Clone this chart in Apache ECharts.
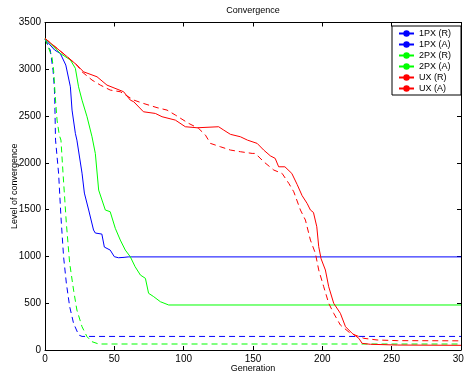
<!DOCTYPE html>
<html>
<head>
<meta charset="utf-8">
<title>Convergence</title>
<script src="https://cdn.jsdelivr.net/npm/echarts@6/dist/echarts.min.js"></script>
<style>
  html, body { margin: 0; padding: 0; background: #fff; }
  #chart { width: 464px; height: 375px; }
</style>
</head>
<body>
<div id="chart"></div>
<script>
// generation / level pairs, one pair of arrays per run
var onePxRGen = [0, 1, 7, 11, 15, 18.3, 19.5, 21.9, 23, 26.7, 28.4, 31.5, 35, 36.3, 41, 42.8, 47, 50, 53, 57, 60, 300];
var onePxRLevel = [3320, 3310, 3205, 3170, 3045, 2813, 2564, 2315, 2243, 1890, 1677, 1496, 1282, 1250, 1239, 1100, 1068, 997, 986, 990, 995, 995];

var onePxAGen = [0, 1, 3.8, 5.8, 6.7, 7, 7.6, 9.8, 11.5, 13.4, 15.4, 17.8, 20.6, 24.3, 26.7, 300];
var onePxALevel = [3320, 3300, 3205, 2990, 2813, 2700, 2243, 1890, 1424, 997, 714, 463, 285, 160, 145, 145];

var twoPxRGen = [0, 1, 11, 18.3, 21.9, 24.2, 26.7, 30.3, 33.9, 36.3, 38.7, 43.5, 47, 50.7, 54.3, 57.9, 61.5, 65, 68.8, 72.4, 74.7, 78.4, 83.2, 89.2, 300];
var twoPxRLevel = [3330, 3320, 3170, 3100, 3010, 2813, 2670, 2493, 2279, 2100, 1709, 1496, 1478, 1300, 1175, 1068, 997, 890, 801, 766, 606, 570, 516, 481, 481];

var twoPxAGen = [0, 1, 5, 6.2, 7.4, 8.7, 10.3, 11.5, 13, 15.4, 17.8, 20.6, 23, 26.7, 30.3, 33.9, 38.7, 300];
var twoPxALevel = [3330, 3310, 3133, 2990, 2706, 2457, 2297, 2243, 1890, 1353, 927, 641, 427, 249, 142, 89, 64, 64];

var uxRGen = [0, 1.4, 8.7, 16, 23, 27.8, 37.5, 44.7, 56.7, 61.5, 64, 71, 79.6, 84.4, 94, 101.2, 109.7, 125.2, 128.9, 133.7, 140.9, 146, 153, 157.7, 162.5, 166, 168.5, 173, 178, 181.8, 185.4, 189, 191.4, 193.6, 196, 197.4, 199.1, 202.2, 204.6, 208.2, 213, 216.7, 221.5, 226.3, 228.7, 234.7, 254, 300];
var uxRLevel = [3330, 3320, 3223, 3134, 3045, 2973, 2920, 2831, 2760, 2671, 2653, 2546, 2528, 2493, 2457, 2386, 2375, 2386, 2350, 2305, 2279, 2243, 2208, 2137, 2075, 2048, 1958, 1958, 1887, 1770, 1650, 1567, 1496, 1470, 1317, 1104, 975, 855, 676, 499, 392, 249, 178, 125, 71, 61, 53, 50];

var uxAGen = [0, 1.4, 8.7, 16, 23, 26.7, 33.9, 39.9, 47, 54.3, 64, 71, 80.8, 88, 94, 103.6, 110.8, 115.7, 119.3, 126.5, 133.7, 140.9, 149.4, 151.7, 157.7, 165, 171, 175.8, 179.4, 184.2, 187.8, 191.4, 195, 197.4, 201, 204.6, 208.2, 213, 220.3, 229.9, 239.5, 254, 300];
var uxALevel = [3330, 3320, 3223, 3134, 3045, 2973, 2885, 2831, 2778, 2760, 2671, 2635, 2590, 2564, 2511, 2422, 2368, 2297, 2208, 2172, 2137, 2119, 2101, 2101, 2012, 1923, 1887, 1781, 1691, 1496, 1389, 1175, 1033, 855, 676, 499, 392, 267, 178, 125, 107, 100, 98];

var seriesNames = ['1PX (R)', '1PX (A)', '2PX (R)', '2PX (A)', 'UX (R)', 'UX (A)'];
var xTicks = [0, 50, 100, 150, 200, 250, 300];
var yTicks = [0, 500, 1000, 1500, 2000, 2500, 3000, 3500];

var FONT = '"Liberation Sans", Arial, sans-serif';
var BLUE = '#0000ff', GREEN = '#00ff00', RED = '#ff0000';
var DASH = [6, 4];

function pairs(gen, level) {
  var out = [];
  for (var i = 0; i < gen.length; i++) {
    out.push([gen[i], level[i]]);
  }
  return out;
}

function makeSeries(name, gen, level, color, dashed) {
  return {
    name: name,
    type: 'line',
    xAxisIndex: 0,
    yAxisIndex: 0,
    data: pairs(gen, level),
    symbol: 'none',
    showSymbol: false,
    smooth: false,
    lineStyle: { color: color, width: 1, type: dashed ? DASH : 'solid' },
    itemStyle: { color: color },
    emphasis: { disabled: true }
  };
}

function plainNum(v) {
  return String(v);
}

function RenderChart() {
  var dom = document.getElementById('chart');
  var myChart = echarts.init(dom, null, { renderer: 'canvas' });

  var tickOpts = { show: true, inside: true, length: 4, lineStyle: { color: '#000', width: 1 } };
  var lineOpts = { show: true, onZero: false, lineStyle: { color: '#000', width: 1 } };

  var option = {
    animation: false,
    backgroundColor: '#fff',
    title: {
      text: 'Convergence',
      left: 253,
      textAlign: 'center',
      top: 6,
      padding: 0,
      textStyle: { fontFamily: FONT, fontSize: 9, fontWeight: 'normal', color: '#000' }
    },
    grid: { left: 45, right: 3, top: 22.5, bottom: 25, containLabel: false, outerBoundsMode: 'none' },
    legend: {
      orient: 'vertical',
      left: 392,
      top: 26,
      width: 67,
      padding: [2, 10, 1, 6],
      itemWidth: 15,
      itemHeight: 8,
      itemGap: 0,
      backgroundColor: '#fff',
      borderColor: '#000',
      borderWidth: 1,
      textStyle: { fontFamily: FONT, fontSize: 9, color: '#000', lineHeight: 11 },
      data: seriesNames
    },
    xAxis: [
      {
        type: 'value',
        position: 'bottom',
        min: xTicks[0],
        max: xTicks[xTicks.length - 1],
        interval: 50,
        name: 'Generation',
        nameLocation: 'middle',
        nameGap: 14,
        nameMoveOverlap: false,
        nameTextStyle: { fontFamily: FONT, fontSize: 9, color: '#000' },
        axisLine: lineOpts,
        axisTick: tickOpts,
        splitLine: { show: false },
        axisLabel: { margin: 4, fontFamily: FONT, fontSize: 10, color: '#000', formatter: plainNum }
      },
      {
        type: 'value',
        position: 'top',
        min: xTicks[0],
        max: xTicks[xTicks.length - 1],
        interval: 50,
        axisLine: lineOpts,
        axisTick: tickOpts,
        splitLine: { show: false },
        axisLabel: { show: false }
      }
    ],
    yAxis: [
      {
        type: 'value',
        position: 'left',
        min: yTicks[0],
        max: yTicks[yTicks.length - 1],
        interval: 500,
        name: 'Level of convergence',
        nameLocation: 'middle',
        nameGap: 26,
        nameMoveOverlap: false,
        nameTextStyle: { fontFamily: FONT, fontSize: 9, color: '#000' },
        axisLine: lineOpts,
        axisTick: tickOpts,
        splitLine: { show: false },
        axisLabel: { margin: 4, fontFamily: FONT, fontSize: 10, color: '#000', formatter: plainNum }
      },
      {
        type: 'value',
        position: 'right',
        min: yTicks[0],
        max: yTicks[yTicks.length - 1],
        interval: 500,
        axisLine: lineOpts,
        axisTick: tickOpts,
        splitLine: { show: false },
        axisLabel: { show: false }
      }
    ],
    series: [
      makeSeries(seriesNames[0], onePxRGen, onePxRLevel, BLUE, false),
      makeSeries(seriesNames[1], onePxAGen, onePxALevel, BLUE, true),
      makeSeries(seriesNames[2], twoPxRGen, twoPxRLevel, GREEN, false),
      makeSeries(seriesNames[3], twoPxAGen, twoPxALevel, GREEN, true),
      makeSeries(seriesNames[4], uxRGen, uxRLevel, RED, false),
      makeSeries(seriesNames[5], uxAGen, uxALevel, RED, true)
    ]
  };

  if (option && typeof option === 'object') {
    myChart.setOption(option);
  }
}

window.onload = RenderChart;
</script>
</body>
</html>
